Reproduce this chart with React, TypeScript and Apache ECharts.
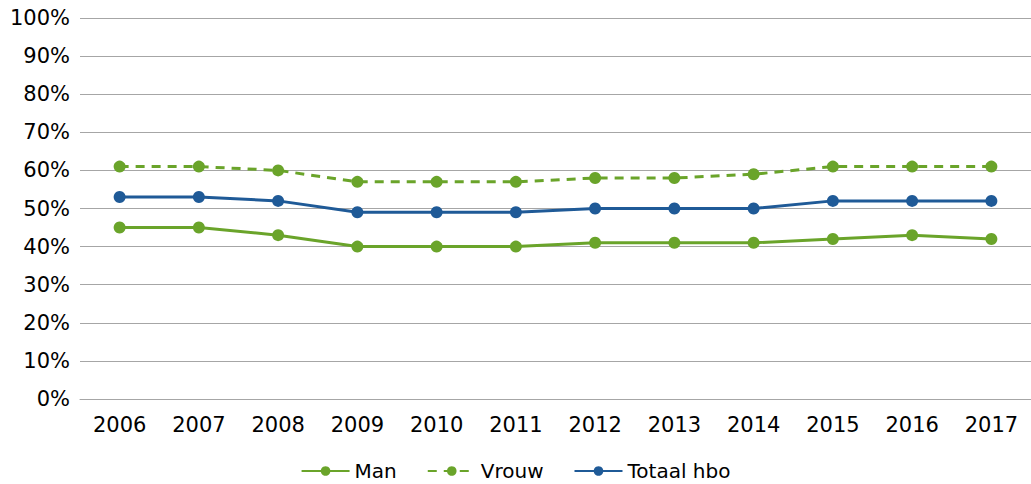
import React, { useEffect, useRef } from "react";
import * as echarts from "echarts";

const years = ["2006", "2007", "2008", "2009", "2010", "2011", "2012", "2013", "2014", "2015", "2016", "2017"];
const man = [45, 45, 43, 40, 40, 40, 41, 41, 41, 42, 43, 42];
const vrouw = [61, 61, 60, 57, 57, 57, 58, 58, 59, 61, 61, 61];
const totaal = [53, 53, 52, 49, 49, 49, 50, 50, 50, 52, 52, 52];

const GREEN = "#6AA42A";
const BLUE = "#1F5A97";
const FONT = "DejaVu Sans";

export default function App() {
  const ref = useRef<HTMLDivElement>(null);
  useEffect(() => {
    if (!ref.current) return;
    const chart = echarts.init(ref.current, undefined, { renderer: "svg" });
    const mk = (name: string, data: number[], color: string, type: string) => ({
      name,
      type: "line",
      data,
      symbol: "circle",
      symbolSize: 12,
      lineStyle: { color, width: 3, type: type === "dashed" ? [9, 7] : "solid" },
      itemStyle: { color },
      z: name === "Totaal hbo" ? 3 : 2,
    });
    chart.setOption({
      animation: false,
      textStyle: { fontFamily: FONT },
      grid: { left: 80, right: 0, top: 18, bottom: 85, containLabel: false },
      legend: {
        bottom: -2,
        left: "center",
        itemWidth: 48,
        itemHeight: 12,
        itemGap: 30,
        textStyle: { fontFamily: FONT, fontSize: 20, color: "#000" },
        data: ["Man", "Vrouw", "Totaal hbo"],
      },
      xAxis: {
        type: "category",
        data: years,
        boundaryGap: true,
        axisLine: { show: true, lineStyle: { color: "#A6A6A6", width: 1 } },
        axisTick: { show: false },
        axisLabel: { fontFamily: FONT, fontSize: 21, color: "#000", margin: 15 },
      },
      yAxis: {
        type: "value",
        min: 0,
        max: 100,
        interval: 10,
        axisLine: { show: false },
        axisTick: { show: false },
        axisLabel: { fontFamily: FONT, fontSize: 21, color: "#000", margin: 10, formatter: "{value}%" },
        splitLine: { lineStyle: { color: "#A6A6A6", width: 1 } },
      },
      series: [
        mk("Man", man, GREEN, "solid"),
        mk("Vrouw", vrouw, GREEN, "dashed"),
        mk("Totaal hbo", totaal, BLUE, "solid"),
      ],
    });
    return () => chart.dispose();
  }, []);
  return <div ref={ref} style={{ width: 1031, height: 484, position: "absolute", left: 0, top: 0 }} />;
}
